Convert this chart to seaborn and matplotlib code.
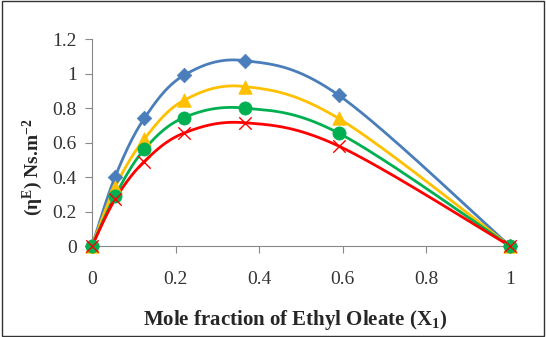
import numpy as np
import seaborn as sns
import matplotlib.pyplot as plt
from matplotlib.patches import Rectangle

sns.set_style("white")
plt.rcParams['font.family'] = ['Liberation Serif', 'DejaVu Serif']
plt.rcParams['mathtext.fontset'] = 'custom'
plt.rcParams['mathtext.rm'] = 'Liberation Serif:bold'
plt.rcParams['mathtext.it'] = 'Liberation Serif:bold'
plt.rcParams['mathtext.bf'] = 'Liberation Serif:bold'

# Mole fraction of ethyl oleate
x1 = [0.0, 0.055, 0.125, 0.22, 0.365, 0.59, 1.0]

# Excess viscosity, one series per temperature
eta_blue = [0.0, 0.40, 0.74, 0.99, 1.075, 0.875, 0.0]
eta_yellow = [0.0, 0.34, 0.62, 0.845, 0.925, 0.74, 0.0]
eta_green = [0.0, 0.29, 0.56, 0.745, 0.80, 0.655, 0.0]
eta_red = [0.0, 0.27, 0.49, 0.655, 0.715, 0.58, 0.0]

x_ticks = [0, 0.2, 0.4, 0.6, 0.8, 1]
y_ticks = [0, 0.2, 0.4, 0.6, 0.8, 1, 1.2]


# smoothed line like Excel (Bezier through the points)
def smooth(xs, ys, n=40):
    p = np.column_stack([xs, ys]).astype(float)
    out = []
    for i in range(len(p) - 1):
        p0 = p[max(i - 1, 0)]
        p1 = p[i]
        p2 = p[i + 1]
        p3 = p[min(i + 2, len(p) - 1)]
        c1 = p1 + (p2 - p0) / 6
        c2 = p2 - (p3 - p1) / 6
        t = np.linspace(0, 1, n)[:, None]
        seg = ((1 - t) ** 3 * p1 + 3 * (1 - t) ** 2 * t * c1
               + 3 * (1 - t) * t ** 2 * c2 + t ** 3 * p2)
        out.append(seg if i == 0 else seg[1:])
    out = np.vstack(out)
    return out[:, 0], out[:, 1]


series = [
    (eta_blue, '#4A7EBB', 'D', 55),
    (eta_yellow, '#FFC000', '^', 95),
    (eta_green, '#00B050', 'o', 90),
    (eta_red, '#FF0000', 'x', 80),
]

fig = plt.figure(figsize=(5.46, 3.37), dpi=100)
ax = fig.add_axes([0.1685, 0.27, 0.7655, 0.614])

for ys, col, mk, s in series:
    sx, sy = smooth(x1, ys)
    sns.lineplot(x=sx, y=sy, ax=ax, color=col, linewidth=2, sort=False)
for ys, col, mk, s in series:
    if mk == 'x':
        sns.scatterplot(x=x1, y=ys, ax=ax, color=col, marker=mk, s=s,
                        linewidth=1, zorder=3)
    else:
        sns.scatterplot(x=x1, y=ys, ax=ax, color=col, marker=mk, s=s,
                        edgecolor=col, linewidth=0.5, zorder=3)

ax.set_xlim(0, 1)
ax.set_ylim(0, 1.2)
ax.set_xticks(x_ticks)
ax.set_xticklabels(['0', '0.2', '0.4', '0.6', '0.8', '1'])
ax.set_yticks(y_ticks)
ax.set_yticklabels(['0', '0.2', '0.4', '0.6', '0.8', '1', '1.2'])
ax.tick_params(axis='both', labelsize=14, length=5, width=0.8,
               direction='out', left=True, bottom=True)
ax.tick_params(axis='x', pad=13, colors='#888888', labelcolor='#333333')
ax.tick_params(axis='y', pad=6, colors='#888888', labelcolor='#333333')

for side in ['top', 'right']:
    ax.spines[side].set_visible(False)
for side in ['left', 'bottom']:
    ax.spines[side].set_color('#888888')
    ax.spines[side].set_linewidth(0.8)
    ax.spines[side].set_zorder(0)

fig.text(0.54, 0.05, r'Mole fraction of Ethyl Oleate (X$_\mathbf{1}$)',
         ha='center', va='center', fontsize=15, fontweight='bold')
fig.text(0.06, 0.505, r'(η$^\mathbf{E}$) Ns.m$^{\mathbf{-2}}$',
         ha='center', va='center', rotation=90, fontsize=14,
         fontweight='bold')

fig.patches.append(Rectangle((0.003, 0.003), 0.994, 0.994,
                             transform=fig.transFigure, fill=False,
                             edgecolor='#333333', linewidth=1))

for c in ax.collections:
    c.set_clip_on(False)

fig.savefig('out.png', dpi=100)
